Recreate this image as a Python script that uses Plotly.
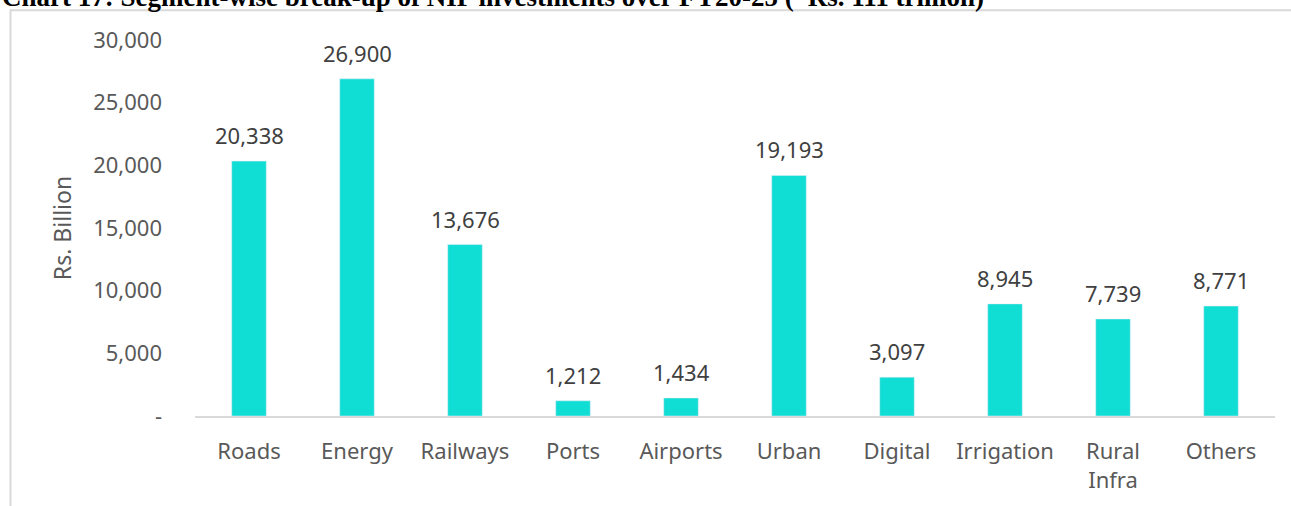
import plotly.graph_objects as go

categories = ["Roads", "Energy", "Railways", "Ports", "Airports", "Urban", "Digital", "Irrigation", "Rural<br>Infra", "Others"]
values = [20338, 26900, 13676, 1212, 1434, 19193, 3097, 8945, 7739, 8771]
tick_vals = [0, 5000, 10000, 15000, 20000, 25000, 30000]
tick_text = ["-", "5,000", "10,000", "15,000", "20,000", "25,000", "30,000"]
title_text = "Chart 17: Segment-wise break-up of NIP investments over FY20-25 (~Rs. 111 trillion)"

W, H = 1291, 506
L, R, T, B = 195, 16, 40, 86
pw, ph = W - L - R, H - T - B

def px_x(p):
    return (p - L) / pw

def px_y(p):
    return (H - B - p) / ph

font_main = "Noto Sans, Open Sans, sans-serif"

fig = go.Figure(go.Bar(
    x=categories, y=values,
    marker_color="#10DDD4",
    width=0.32,
))

for c, v in zip(categories, values):
    fig.add_annotation(
        x=c, y=v, text=f"{v:,}", showarrow=False,
        xanchor="center", yanchor="bottom", yshift=9,
        font=dict(family=font_main, size=22, color="#404040"),
    )

fig.update_layout(
    width=W, height=H,
    margin=dict(l=L, r=R, t=T, b=B, pad=0),
    paper_bgcolor="white", plot_bgcolor="white",
    showlegend=False,
    xaxis=dict(
        showgrid=False, showline=True, linecolor="#D9D9D9", linewidth=2,
        tickfont=dict(family=font_main, size=22, color="#595959"),
        ticks="", ticklabelstandoff=15,
    ),
    yaxis=dict(
        range=[0, 30000], tickvals=tick_vals, ticktext=tick_text,
        showgrid=False, showline=False, zeroline=False,
        tickfont=dict(family=font_main, size=22, color="#595959"),
        ticks="", ticklabelstandoff=32,
        title=dict(text="Rs. Billion", font=dict(family=font_main, size=23, color="#595959"), standoff=15),
    ),
    shapes=[dict(
        type="rect", xref="paper", yref="paper",
        x0=px_x(10.5), x1=px_x(W + 20), y0=px_y(H + 20), y1=px_y(10),
        line=dict(color="#D9D9D9", width=2), fillcolor="rgba(0,0,0,0)", layer="below",
    )],
)
fig.add_annotation(
    text="<b>" + title_text + "</b>", xref="paper", yref="paper",
    x=px_x(0), y=px_y(14), xanchor="left", yanchor="bottom", showarrow=False,
    font=dict(family="Liberation Serif, Times New Roman, serif", size=27, color="black"),
)

fig.write_html("out.html", config={"displayModeBar": False},
               post_script="document.body.style.margin='0';document.body.style.overflow='hidden';")
